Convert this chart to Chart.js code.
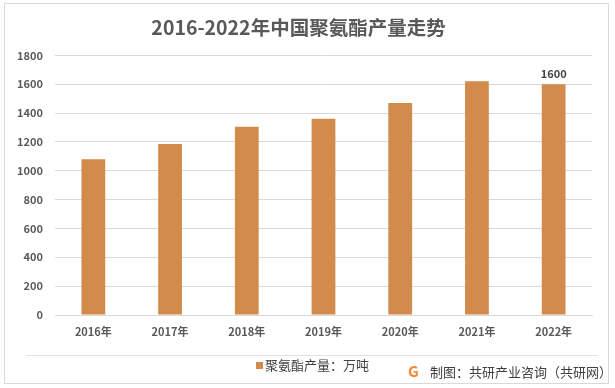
<!DOCTYPE html>
<html>
<head>
<meta charset="utf-8">
<script src="https://cdn.jsdelivr.net/npm/chart.js@4.4.0/dist/chart.umd.min.js"></script>
<style>
  body { margin: 0; background: #fff; font-family: "Noto Sans CJK SC", "Noto Sans", sans-serif; }
  #box { position: absolute; left: 4px; top: 3px; width: 603px; height: 379px; border: 1px solid #d9d9d9; background: #fff; }
  #chart { position: absolute; left: 0; top: 0; }
  #sep { position: absolute; left: 21px; top: 351px; width: 572px; height: 1px; background: #e3e3e3; }
  #legend { position: absolute; left: 251px; top: 351px; font-family: "Noto Sans CJK SC"; font-size: 13px; color: #404040; white-space: nowrap; }
  #legend i { display: inline-block; width: 7px; height: 7px; margin-right: 2px; vertical-align: 1px; }
  #src { position: absolute; left: 403px; top: 356px; font-size: 13px; color: #404040; white-space: nowrap; }
  #src .logo { display: inline-block; width: 14px; font-weight: bold; font-size: 15px; color: #f08a3a; margin-right: 8px; }
</style>
</head>
<body>
<div id="box">
  <canvas id="chart" width="603" height="379"></canvas>
  <div id="sep"></div>
  <div id="legend"></div>
  <div id="src"><span class="logo">G</span>制图：共研产业咨询（共研网）</div>
</div>
<script>
// data
var years = ["2016年", "2017年", "2018年", "2019年", "2020年", "2021年", "2022年"];
var output = [1080, 1185, 1305, 1360, 1470, 1620, 1600];
var labeledBars = [6];
var seriesName = "聚氨酯产量：万吨";

var textColor = "#595959";
var barColor = "#d38b4c";

// value label above selected bars
var valueLabels = {
    id: "valueLabels",
    afterDatasetsDraw: function (chart) {
        var ctx = chart.ctx;
        var meta = chart.getDatasetMeta(0);
        ctx.save();
        ctx.font = "bold 11px 'Noto Sans CJK SC'";
        ctx.fillStyle = "#404040";
        ctx.textAlign = "center";
        ctx.textBaseline = "bottom";
        labeledBars.forEach(function (i) {
            var bar = meta.data[i];
            ctx.fillText(output[i], bar.x, bar.y - 5);
        });
        ctx.restore();
    }
};

var chart = new Chart(document.getElementById("chart"), {
    type: "bar",
    data: {
        labels: years,
        datasets: [{
            label: seriesName,
            data: output,
            backgroundColor: barColor,
            categoryPercentage: 0.62,
            barPercentage: 0.5
        }]
    },
    options: {
        responsive: false,
        animation: false,
        layout: { padding: { left: 0, right: 16, top: 0, bottom: 0 } },
        plugins: {
            title: {
                display: true,
                text: "2016-2022年中国聚氨酯产量走势",
                color: textColor,
                font: { family: "Noto Sans CJK SC", size: 19.5, weight: "bold" },
                padding: { top: 12, bottom: 16 }
            },
            legend: { display: false },
            tooltip: { enabled: false }
        },
        scales: {
            x: {
                afterFit: function (scale) { scale.height = 68; },
                grid: { display: false },
                border: { display: true, color: "#d9d9d9" },
                ticks: {
                    color: textColor,
                    font: { family: "Noto Sans CJK SC", size: 11, weight: "bold" },
                    padding: 2
                }
            },
            y: {
                min: 0,
                max: 1800,
                afterFit: function (scale) { scale.width = 50; },
                grid: { color: "#d9d9d9", drawTicks: false },
                border: { display: false },
                ticks: {
                    stepSize: 200,
                    color: textColor,
                    padding: 12,
                    font: { family: "Noto Sans CJK SC", size: 11, weight: "bold" },
                    callback: function (v) { return v; }
                }
            }
        }
    },
    plugins: [valueLabels]
});

// legend from the dataset
var ds = chart.data.datasets[0];
document.getElementById("legend").innerHTML =
    '<i style="background:' + ds.backgroundColor + '"></i>' + ds.label;
</script>
</body>
</html>
